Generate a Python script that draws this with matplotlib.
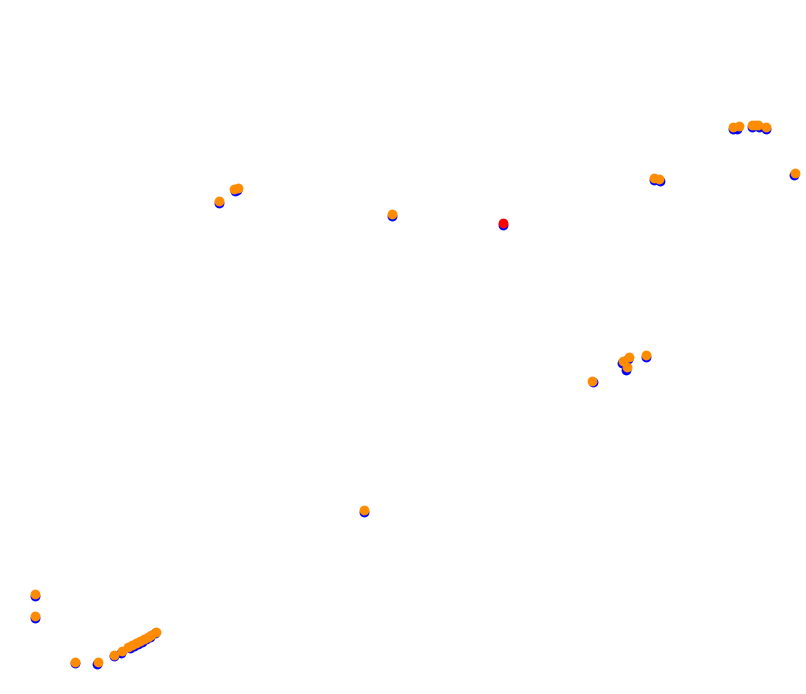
import matplotlib
matplotlib.use("Agg")
import matplotlib.pyplot as plt
import numpy as np

# orange points (x, y in picture coordinates, y down)
orange_x = [35, 35, 75, 98, 114, 122, 128, 132, 136, 140, 144, 148, 151, 156,
            364, 592, 623, 629, 627, 646, 219, 234, 238, 392,
            654, 659, 733, 739, 752, 755, 758, 766, 795]
orange_y = [594, 616, 662, 662, 655, 651, 647, 645, 643, 641, 639, 637, 635, 632,
            510, 381, 361, 357, 367, 355, 201, 189, 188, 214,
            178, 179, 127, 126, 125, 125, 125, 127, 173]

# blue points sit slightly under the orange ones
blue_x = [35, 35, 75, 97, 114, 121, 130, 134, 138, 142, 146, 150, 155,
          364, 593, 622, 626, 628, 646, 219, 235, 237, 392, 503,
          654, 660, 733, 737, 752, 759, 766, 794]
blue_y = [596, 618, 663, 664, 656, 653, 648, 646, 644, 642, 639, 637, 633,
          512, 382, 363, 370, 359, 357, 203, 191, 190, 216, 225,
          180, 181, 129, 129, 127, 127, 129, 175]

red_x = [503]
red_y = [223]

fig = plt.figure(figsize=(8.06, 6.94), dpi=100)
ax = fig.add_axes([0, 0, 1, 1])
ax.scatter(blue_x, blue_y, s=50, color="blue", linewidths=0)
ax.scatter(red_x, red_y, s=50, color="red", linewidths=0, zorder=3)
ax.scatter(orange_x, orange_y, s=50, color="#ff8c00", linewidths=0, zorder=2)
ax.set_xlim(0, 806)
ax.set_ylim(694, 0)
ax.axis("off")

fig.savefig("out.png")
